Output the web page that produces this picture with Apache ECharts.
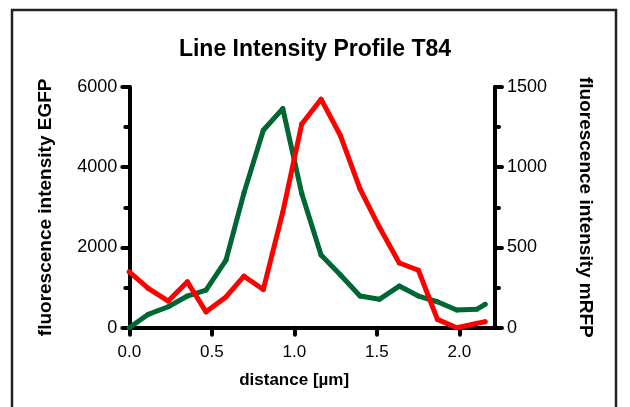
<!DOCTYPE html>
<html>
<head>
<meta charset="utf-8">
<script src="https://cdn.jsdelivr.net/npm/echarts@6/dist/echarts.min.js"></script>
<style>
html,body{margin:0;padding:0;background:#fff;}
#chart{width:630px;height:407px;}
</style>
</head>
<body>
<div id="chart"></div>
<script>
// ---- data ----
var titleText = 'Line Intensity Profile T84';
var xName = 'distance [µm]';
var yLeftName = 'fluorescence intensity EGFP';
var yRightName = 'fluorescence intensity mRFP';
var distance = [0, 0.115, 0.236, 0.352, 0.465, 0.586, 0.695, 0.812, 0.930, 1.045, 1.162, 1.280, 1.398, 1.515, 1.636, 1.752, 1.867, 1.984, 2.105, 2.156];
var egfp = [0, 334, 523, 789, 939, 1686, 3361, 4922, 5462, 3346, 1810, 1312, 789, 707, 1038, 789, 647, 441, 458, 583];
var mrfp = [348, 245, 166, 286, 99, 192, 321, 238, 720, 1269, 1424, 1196, 865, 627, 403, 358, 52, 0, 27, 37];
var xTicks = [0, 0.5, 1.0, 1.5, 2.0];

function pairs(xs, ys) { return xs.map(function (x, i) { return [x, ys[i]]; }); }

var chart = echarts.init(document.getElementById('chart'), null, {renderer: 'canvas'});
var axisLine = {show: true, lineStyle: {color: '#000', width: 4, cap: 'round'}};
var tickStyle = {show: true, length: 7, inside: false, lineStyle: {color: '#000', width: 4, cap: 'round'}};
var minorStyle = {show: true, splitNumber: 2, length: 4, lineStyle: {color: '#000', width: 4, cap: 'round'}};
var labelFont = {color: '#000', fontFamily: 'Liberation Sans, Arial, sans-serif', fontSize: 18};
var nameFont = {color: '#000', fontFamily: 'Liberation Sans, Arial, sans-serif', fontSize: 19, fontWeight: 'bold'};
function plain(v) { return String(v); }

chart.setOption({
  animation: false,
  backgroundColor: '#fff',
  title: {
    text: titleText, left: 'center', top: 33,
    textStyle: {color: '#000', fontFamily: 'Liberation Sans, Arial, sans-serif', fontSize: 23, fontWeight: 'bold'}
  },
  graphic: [{
    type: 'rect', silent: true, z: 100,
    shape: {x: 12, y: 10, width: 604, height: 430},
    style: {fill: 'none', stroke: '#222', lineWidth: 2.5}
  }],
  grid: {left: 129.3, right: 135, top: 87, bottom: 79.3, containLabel: false},
  xAxis: {
    type: 'value', min: 0, max: 2.216,
    name: xName, nameLocation: 'middle', nameGap: 44,
    nameTextStyle: Object.assign({}, nameFont, {fontSize: 17, padding: [0, 36, 0, 0]}),
    axisLine: axisLine,
    axisTick: Object.assign({}, tickStyle, {customValues: xTicks}),
    axisLabel: Object.assign({}, labelFont, {
      fontSize: 17,
      customValues: xTicks, margin: 16,
      formatter: function (v) { return v.toFixed(1); }
    }),
    splitLine: {show: false}
  },
  yAxis: [{
    type: 'value', position: 'left', min: 0, max: 6000, interval: 2000,
    name: yLeftName, nameLocation: 'middle', nameGap: 74, nameRotate: 90,
    nameTextStyle: nameFont,
    axisLine: axisLine, axisTick: tickStyle, minorTick: minorStyle,
    axisLabel: Object.assign({}, labelFont, {margin: 12, formatter: plain}),
    splitLine: {show: false}
  }, {
    type: 'value', position: 'right', min: 0, max: 1500, interval: 500,
    name: yRightName, nameLocation: 'middle', nameGap: 81, nameRotate: -90,
    nameTextStyle: nameFont,
    axisLine: axisLine, axisTick: tickStyle, minorTick: minorStyle,
    axisLabel: Object.assign({}, labelFont, {margin: 12, formatter: plain}),
    splitLine: {show: false}
  }],
  series: [{
    name: 'EGFP', type: 'line', yAxisIndex: 0, data: pairs(distance, egfp),
    symbol: 'circle', symbolSize: 5, showSymbol: true,
    itemStyle: {color: '#006633'},
    lineStyle: {color: '#006633', width: 5, join: 'round', cap: 'round'}, z: 2
  }, {
    name: 'mRFP', type: 'line', yAxisIndex: 1, data: pairs(distance, mrfp),
    symbol: 'circle', symbolSize: 5, showSymbol: true,
    itemStyle: {color: '#ff0000'},
    lineStyle: {color: '#ff0000', width: 5, join: 'round', cap: 'round'}, z: 3
  }]
});
</script>
</body>
</html>
